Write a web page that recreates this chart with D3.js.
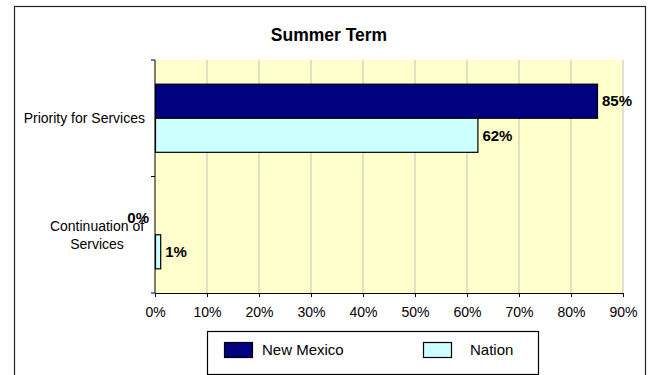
<!DOCTYPE html>
<html>
<head>
<meta charset="utf-8">
<script src="https://cdn.jsdelivr.net/npm/d3@7"></script>
<style>
  body { margin: 0; background: #fff; }
  svg text { font-family: "Liberation Sans", Arial, sans-serif; fill: #000; }
</style>
</head>
<body>
<div id="wrapper"></div>
<script>
// data
const categories = ["Priority for Services", "Continuation of Services"];
const categoryLines = [["Priority for Services"], ["Continuation of", "Services"]];
const seriesNames = ["New Mexico", "Nation"];
const newMexico = [85, 0];
const nation = [62, 1];
const xTicks = [0, 10, 20, 30, 40, 50, 60, 70, 80, 90];

const colors = {"New Mexico": "#000080", "Nation": "#CCFFFF"};

dimensions = {
  width: 652,
  height: 375,
  margin: {top: 60, left: 155, bottom: 82, right: 29}
}
dimensions.boundedWidth = dimensions.width - dimensions.margin.left - dimensions.margin.right;
dimensions.boundedHeight = dimensions.height - dimensions.margin.top - dimensions.margin.bottom;

wrapper = d3.select("#wrapper").append("svg")
  .attr("width", dimensions.width)
  .attr("height", dimensions.height);

// outer frame
wrapper.append("rect")
  .attr("x", 14.5).attr("y", 6.5)
  .attr("width", 631).attr("height", 380)
  .attr("fill", "none").attr("stroke", "#222").attr("stroke-width", 1.2);

// title
wrapper.append("text")
  .attr("x", 329).attr("y", 41)
  .attr("text-anchor", "middle")
  .style("font-size", "17.5px").style("font-weight", "bold")
  .text("Summer Term");

container = wrapper.append("g")
  .attr("transform", `translate(${dimensions.margin.left}, ${dimensions.margin.top})`);

const xScale = d3.scaleLinear().domain([0, 90]).range([0, dimensions.boundedWidth]);
const yScale = d3.scaleBand().domain(categories).range([0, dimensions.boundedHeight]);
const inner = d3.scaleBand().domain(seriesNames).range([0, yScale.bandwidth()]).paddingOuter(0.71);

// plot background
container.append("rect")
  .attr("width", dimensions.boundedWidth).attr("height", dimensions.boundedHeight)
  .attr("fill", "#FFFFCC");

// gridlines
container.append("g").selectAll("line")
  .data(xTicks.slice(1))
  .enter().append("line")
  .attr("x1", d => xScale(d)).attr("x2", d => xScale(d))
  .attr("y1", 0).attr("y2", dimensions.boundedHeight)
  .attr("stroke", "#C0C0C0").attr("stroke-width", 1);

// bars
const rows = categories.map((c, i) => ({cat: c, values: [
  {name: "New Mexico", v: newMexico[i]},
  {name: "Nation", v: nation[i]}
]}));

const groups = container.selectAll(".grp")
  .data(rows).enter().append("g")
  .attr("class", "grp")
  .attr("transform", d => `translate(0, ${yScale(d.cat)})`);

groups.selectAll("rect")
  .data(d => d.values.filter(e => e.v > 0))
  .enter().append("rect")
  .attr("x", 0.5)
  .attr("y", d => inner(d.name))
  .attr("width", d => xScale(d.v))
  .attr("height", inner.bandwidth())
  .attr("fill", d => colors[d.name])
  .attr("stroke", "#000").attr("stroke-width", 1.2);

// value labels (zero value sits left of the axis, as in the original)
groups.selectAll(".lbl")
  .data(d => d.values)
  .enter().append("text")
  .attr("class", "lbl")
  .attr("x", d => d.v > 0 ? xScale(d.v) + 5 : xScale(d.v) - 6)
  .attr("y", d => inner(d.name) + inner.bandwidth() / 2)
  .attr("dy", "0.35em")
  .attr("text-anchor", d => d.v > 0 ? "start" : "end")
  .style("font-size", "15px").style("font-weight", "bold")
  .text(d => d.v + "%");

// axes
const xAxis = d3.axisBottom(xScale).tickValues(xTicks).tickFormat(d => d + "%").tickSizeOuter(0).tickSize(4);
const axX = container.append("g")
  .attr("transform", `translate(0, ${dimensions.boundedHeight})`)
  .call(xAxis);
axX.select(".domain").attr("stroke", "#000");
axX.selectAll("text").style("font-size", "14px").attr("y", 14).attr("font-family", null);

const axY = container.append("g");
axY.append("line")
  .attr("x1", 0).attr("x2", 0).attr("y1", 0).attr("y2", dimensions.boundedHeight)
  .attr("stroke", "#000");
axY.selectAll(".tk")
  .data(categories.concat(["end"]))
  .enter().append("line")
  .attr("class", "tk")
  .attr("x1", -4).attr("x2", 0)
  .attr("y1", (d, i) => i * yScale.step()).attr("y2", (d, i) => i * yScale.step())
  .attr("stroke", "#000");

// category labels
categories.forEach((c, i) => {
  const lines = categoryLines[i];
  const t = container.append("text")
    .attr("text-anchor", lines.length > 1 ? "middle" : "end")
    .attr("x", lines.length > 1 ? -58 : -10)
    .attr("y", yScale(c) + yScale.bandwidth() / 2 - (lines.length - 1) * 9)
    .style("font-size", "14px");
  lines.forEach((l, j) => {
    t.append("tspan")
      .attr("x", lines.length > 1 ? -58 : -10)
      .attr("dy", j === 0 ? "0.35em" : "18")
      .text(l);
  });
});

// legend
const legend = wrapper.append("g");
legend.append("rect")
  .attr("x", 207.5).attr("y", 331.5).attr("width", 331).attr("height", 43)
  .attr("fill", "#fff").attr("stroke", "#000").attr("stroke-width", 1.2);
const legX = [224, 423];
seriesNames.forEach((s, i) => {
  legend.append("rect")
    .attr("x", legX[i] + 0.5).attr("y", 342.5).attr("width", 28).attr("height", 15)
    .attr("fill", colors[s]).attr("stroke", "#000").attr("stroke-width", 1.2);
  legend.append("text")
    .attr("x", legX[i] + (i === 0 ? 38 : 47)).attr("y", 350).attr("dy", "0.35em")
    .style("font-size", "15px")
    .text(s);
});
</script>
</body>
</html>
